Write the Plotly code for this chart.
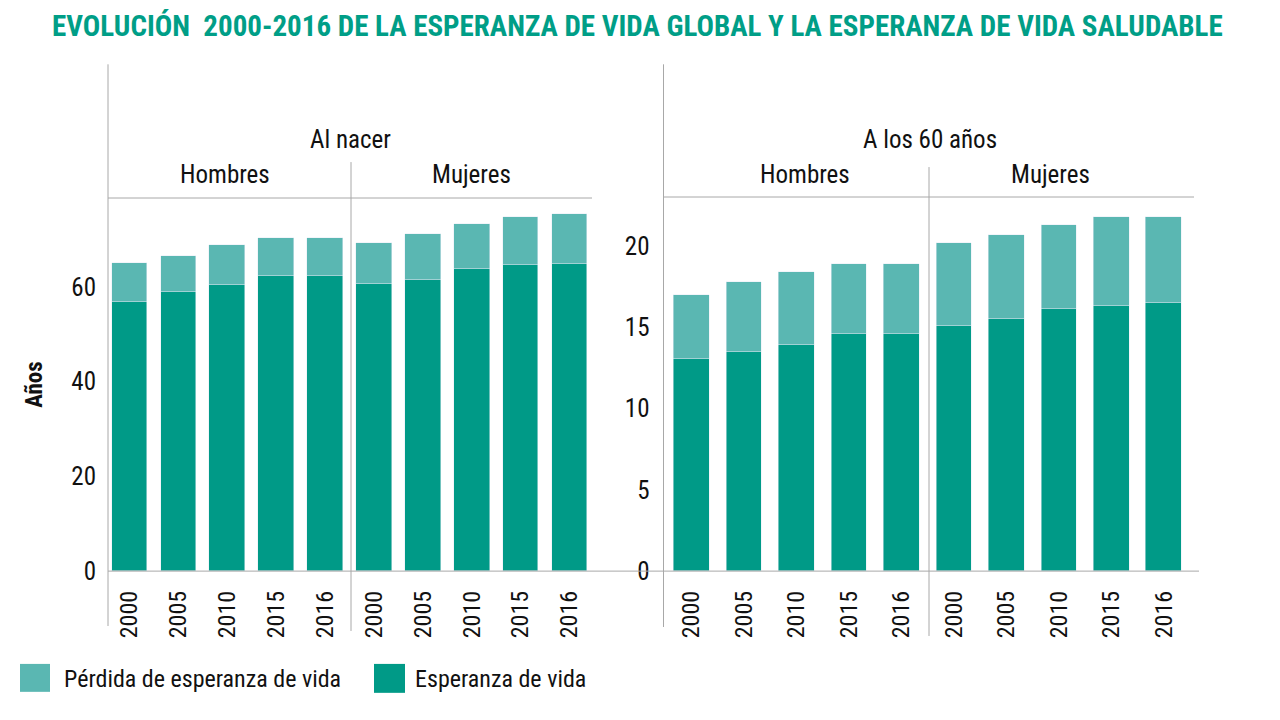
import plotly.graph_objects as go

# ---------------- data ----------------
years = ["2000", "2005", "2010", "2015", "2016"]
groups = ["Hombres", "Mujeres"]

# Al nacer
nacer_total_hombres = [65.0, 66.6, 68.8, 70.2, 70.4]
nacer_sana_hombres = [56.7, 58.9, 60.3, 62.3, 62.3]
nacer_total_mujeres = [69.3, 71.2, 73.2, 74.8, 75.4]
nacer_sana_mujeres = [60.5, 61.5, 63.7, 64.6, 64.8]

# A los 60 años
s60_total_hombres = [17.0, 17.8, 18.4, 18.9, 18.9]
s60_sana_hombres = [13.05, 13.5, 13.9, 14.6, 14.6]
s60_total_mujeres = [20.2, 20.7, 21.3, 21.8, 21.8]
s60_sana_mujeres = [15.1, 15.5, 16.1, 16.3, 16.5]

left_ticks = [0, 20, 40, 60]
right_ticks = [0, 5, 10, 15, 20]

DARK = "#009a87"
LIGHT = "#5ab7b2"
GRID = "#a8a8a8"
TITLE_C = "#009e87"
FONT = "Liberation Sans Narrow, Roboto Condensed, Arial Narrow, Liberation Sans, sans-serif"

# page body has an 8px margin: build a 1264x704 figure and map target-pixel coords
OFF = 8
W, H = 1280 - 2 * OFF, 720 - 2 * OFF
YS, YO = 0.981, -2.3   # observed vertical scaling of the photographed page
def px(x):
    return (x - OFF) / W
def py(y):
    y = (y - YO) / YS
    return 1 - (y - OFF) / H

tick_text = years + years
xpos = list(range(len(tick_text)))

nacer_sana = nacer_sana_hombres + nacer_sana_mujeres
nacer_perd = [t - s for t, s in zip(nacer_total_hombres + nacer_total_mujeres, nacer_sana)]
s60_sana = s60_sana_hombres + s60_sana_mujeres
s60_perd = [t - s for t, s in zip(s60_total_hombres + s60_total_mujeres, s60_sana)]

fig = go.Figure()
fig.add_trace(go.Bar(x=xpos, y=nacer_sana, marker_color=DARK, width=0.73,
                     name="Esperanza de vida", xaxis="x", yaxis="y", showlegend=False))
fig.add_trace(go.Bar(x=xpos, y=nacer_perd, marker_color=LIGHT, width=0.73,
                     name="Pérdida de esperanza de vida", xaxis="x", yaxis="y", showlegend=False))
fig.add_trace(go.Bar(x=xpos, y=s60_sana, marker_color=DARK, width=0.68,
                     name="Esperanza de vida", xaxis="x2", yaxis="y2", showlegend=False))
fig.add_trace(go.Bar(x=xpos, y=s60_perd, marker_color=LIGHT, width=0.68,
                     name="Pérdida de esperanza de vida", xaxis="x2", yaxis="y2", showlegend=False))

ydom = [py(570), py(196)]
tickfont = dict(family=FONT, size=25, color="#111111")
xtickfont = dict(family=FONT, size=24, color="#111111")

fig.update_layout(
    width=W, height=H, autosize=False,
    margin=dict(l=0, r=0, t=0, b=0),
    paper_bgcolor="white", plot_bgcolor="white",
    barmode="stack", bargap=0,
    font=dict(family=FONT, color="#111111"),
    xaxis=dict(domain=[px(108), px(615)], range=[-0.44, 9.93],
               tickmode="array", tickvals=xpos, ticktext=tick_text, tickangle=-90,
               tickfont=xtickfont, showgrid=False, zeroline=False, showline=False,
               ticks="", ticklabelstandoff=14, anchor="y"),
    yaxis=dict(domain=ydom, range=[0, 374 / 4.75], tickmode="array", tickvals=left_ticks,
               tickfont=tickfont, showgrid=False, zeroline=False, showline=False,
               ticks="", ticklabelstandoff=11, anchor="x",
               title=dict(text="<b>Años</b>", font=dict(family=FONT, size=23, color="#111111"),
                          standoff=22)),
    xaxis2=dict(domain=[px(663.5), px(1199)], range=[-0.533, 9.67],
                tickmode="array", tickvals=xpos, ticktext=tick_text, tickangle=-90,
                tickfont=xtickfont, showgrid=False, zeroline=False, showline=False,
                ticks="", ticklabelstandoff=14, anchor="y2"),
    yaxis2=dict(domain=ydom, range=[0, 374 / 16.3], tickmode="array", tickvals=right_ticks,
                tickfont=tickfont, showgrid=False, zeroline=False, showline=False,
                ticks="", ticklabelstandoff=13, anchor="x2"),
)

shapes = []
def line(x0, y0, x1, y1):
    shapes.append(dict(type="line", xref="paper", yref="paper",
                       x0=px(x0), y0=py(y0), x1=px(x1), y1=py(y1),
                       line=dict(color=GRID, width=1)))

line(108, 62, 108, 625)      # left axis
line(351, 160, 351, 630)     # left divider
line(663.5, 62, 663.5, 626)  # right axis
line(929, 165, 929, 635)     # right divider
line(108, 570, 1199, 570)    # baseline
line(108, 196, 592, 196)     # left header line
line(664, 195, 1194, 195)    # right header line

# legend swatches
shapes.append(dict(type="rect", xref="paper", yref="paper", x0=px(20), x1=px(50),
                   y0=py(691), y1=py(663), fillcolor=LIGHT, line=dict(width=0)))
shapes.append(dict(type="rect", xref="paper", yref="paper", x0=px(374), x1=px(405),
                   y0=py(692), y1=py(663), fillcolor=DARK, line=dict(width=0)))
fig.update_layout(shapes=shapes)

ann = []
def text(t, x, y, size=25, color="#111111", xanchor="center", bold=False):
    ann.append(dict(text=f"<b>{t}</b>" if bold else t, x=px(x), y=py(y),
                    xref="paper", yref="paper", xanchor=xanchor, yanchor="middle",
                    showarrow=False, font=dict(family=FONT, size=size, color=color)))

text("EVOLUCIÓN  2000-2016 DE LA ESPERANZA DE VIDA GLOBAL Y LA ESPERANZA DE VIDA SALUDABLE",
     637, 24, size=29, color=TITLE_C, bold=True)
text("Al nacer", 350, 137)
text(groups[0], 225, 172)
text(groups[1], 471, 172)
text("A los 60 años", 930, 137)
text(groups[0], 805, 172)
text(groups[1], 1050, 172)
text("Pérdida de esperanza de vida", 62, 678, size=24, xanchor="left")
text("Esperanza de vida", 413, 678, size=24, xanchor="left")
fig.update_layout(annotations=ann)

fig.write_html("out.html")
